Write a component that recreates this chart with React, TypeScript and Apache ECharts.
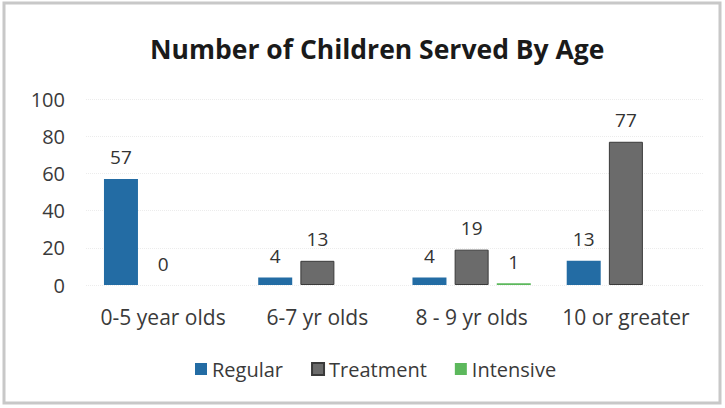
import React, { useEffect, useRef } from "react";
import * as echarts from "echarts";

const categories = ["0-5 year olds", "6-7 yr olds", "8 - 9 yr olds", "10 or greater"];
const regular = [57, 4, 4, 13];
const treatment = [0, 13, 19, 77];
const intensive: (number | null)[] = [null, null, 1, null];
const yTicks = [0, 20, 40, 60, 80, 100];

const FONT = "'Open Sans', sans-serif";

export default function App() {
  const ref = useRef<HTMLDivElement>(null);
  useEffect(() => {
    document.body.style.margin = "0";
    const chart = echarts.init(ref.current!, null, { renderer: "svg" });
    const label = {
      show: true,
      position: "top" as const,
      distance: 12,
      color: "#333",
      fontSize: 19,
      fontFamily: FONT,
    };
    chart.setOption({
      animation: false,
      backgroundColor: "#ffffff",
      title: {
        text: "Number of Children Served By Age",
        left: 145,
        top: 30,
        textStyle: { fontFamily: FONT, fontSize: 26.5, fontWeight: "bold", color: "#1a1a1a" },
      },
      legend: {
        bottom: 24,
        left: 190,
        itemWidth: 12,
        itemHeight: 12,
        itemGap: 28,
        icon: "rect",
        textStyle: { fontFamily: FONT, fontSize: 20, color: "#3a3a3a" },
        data: ["Regular", "Treatment", "Intensive"],
      },
      grid: { left: 86, right: 22, top: 99, bottom: 123 },
      xAxis: {
        type: "category",
        data: categories,
        axisLine: { show: false },
        axisTick: { show: false },
        axisLabel: { interval: 0, fontFamily: FONT, fontSize: 21, color: "#3a3a3a", margin: 21 },
      },
      yAxis: {
        type: "value",
        min: yTicks[0],
        max: yTicks[yTicks.length - 1],
        interval: 20,
        axisLine: { show: false },
        axisTick: { show: false },
        axisLabel: { fontFamily: FONT, fontSize: 20, color: "#3a3a3a", margin: 21 },
        splitLine: { lineStyle: { color: "#ececec", type: "dotted" } },
      },
      series: [
        {
          name: "Regular",
          type: "bar",
          data: regular,
          barWidth: 34,
          barGap: "24%",
          itemStyle: { color: "#236ca4" },
          label,
        },
        {
          name: "Treatment",
          type: "bar",
          data: treatment.map((v) => ({
            value: v,
            itemStyle: v === 0 ? { borderWidth: 0 } : undefined,
          })),
          barWidth: 34,
          barGap: "24%",
          itemStyle: { color: "#6b6b6b", borderColor: "#3a3a3a", borderWidth: 1 },
          label,
        },
        {
          name: "Intensive",
          type: "bar",
          data: intensive,
          barWidth: 34,
          barGap: "24%",
          itemStyle: { color: "#5cb85c" },
          label,
        },
      ],
      graphic: [
        {
          type: "rect",
          shape: { x: 4, y: 3, width: 716, height: 400 },
          style: { fill: "none", stroke: "#c8c8c8", lineWidth: 3 },
          silent: true,
        },
      ],
    });
    return () => chart.dispose();
  }, []);
  return <div ref={ref} style={{ position: "fixed", left: 0, top: 0, width: 725, height: 408 }} />;
}
